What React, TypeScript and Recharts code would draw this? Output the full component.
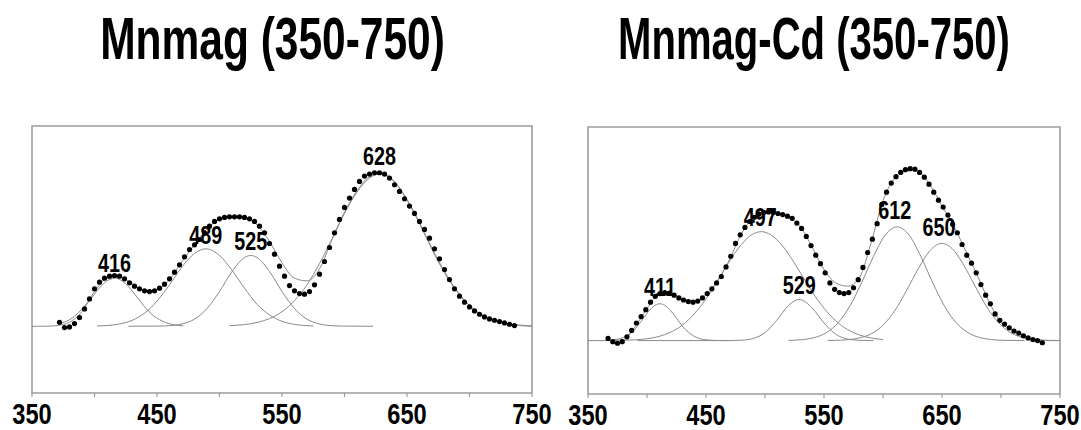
import { ComposedChart, Line, Scatter, XAxis, YAxis, ReferenceArea } from "recharts";

const FONT = "'Liberation Sans', Arial, Helvetica, sans-serif";
const FRAME = "#9c9c9c";
const FIT = "#8a8a8a";

const WAVE_TICKS = [350, 400, 450, 500, 550, 600, 650, 700, 750];
const WAVE_LABELS = [350, 450, 550, 650, 750];
const STEP = 4;

// Mnmag: measured spectrum, one point every 4 nm starting at 372 nm
const MNMAG_FIRST = 372;
const mnmagPoints = [
  0.06, -0.02, -0.01, 0.04, 0.13, 0.26, 0.41, 0.56, 0.66, 0.72, 0.75, 0.76, 0.75, 0.71, 0.65, 0.6,
  0.56, 0.53, 0.52, 0.53, 0.57, 0.63, 0.71, 0.81, 0.92, 1.04, 1.15, 1.22, 1.3, 1.4, 1.5, 1.57,
  1.61, 1.63, 1.64, 1.64, 1.64, 1.63, 1.61, 1.57, 1.5, 1.4, 1.24, 1.08, 0.9, 0.75, 0.61, 0.53,
  0.49, 0.48, 0.52, 0.62, 0.78, 0.97, 1.18, 1.4, 1.6, 1.78, 1.92, 2.05, 2.17, 2.25, 2.28, 2.3,
  2.3, 2.28, 2.22, 2.12, 2.02, 1.91, 1.8, 1.69, 1.57, 1.45, 1.32, 1.16, 1.01, 0.85, 0.7, 0.56,
  0.45, 0.36, 0.29, 0.23, 0.18, 0.14, 0.11, 0.09, 0.07, 0.05, 0.03, 0.01,
];

// Mnmag: overall fit and band components [nm, intensity]
const mnmagFit = [
  [350, 0], [360, 0], [370, 0.01], [380, 0.06], [390, 0.22], [400, 0.52], [410, 0.72], [420, 0.74],
  [430, 0.64], [440, 0.53], [450, 0.55], [460, 0.7], [470, 0.97], [480, 1.22], [490, 1.46],
  [500, 1.6], [510, 1.64], [520, 1.62], [530, 1.52], [540, 1.27], [550, 0.95], [560, 0.72],
  [570, 0.68], [580, 0.86], [590, 1.3], [600, 1.71], [610, 2.03], [620, 2.24], [630, 2.29],
  [640, 2.17], [650, 1.9], [660, 1.55], [670, 1.17], [680, 0.82], [690, 0.53], [700, 0.31],
  [710, 0.17], [720, 0.09], [730, 0.04], [740, 0.01], [750, 0],
];
const mnmag416 = [
  [372, 0.035], [377, 0.07], [382, 0.12], [387, 0.2], [392, 0.3], [397, 0.41], [402, 0.53],
  [407, 0.635], [412, 0.7], [417, 0.72], [422, 0.68], [427, 0.6], [432, 0.485], [437, 0.365],
  [442, 0.25], [447, 0.16], [452, 0.1], [457, 0.055], [462, 0.027], [467, 0.012], [471, 0.006],
];
const mnmag489 = [
  [402, 0.004], [410, 0.011], [420, 0.034], [430, 0.088], [440, 0.196], [450, 0.377], [460, 0.62],
  [470, 0.89], [480, 1.09], [489, 1.16], [500, 1.06], [510, 0.84], [520, 0.57], [530, 0.33],
  [540, 0.17], [550, 0.074], [560, 0.028], [570, 0.009], [575, 0.004],
];
const mnmag525 = [
  [427, 0], [450, 0.002], [460, 0.009], [470, 0.034], [480, 0.106], [490, 0.265], [500, 0.52],
  [510, 0.82], [520, 1.03], [525, 1.06], [530, 1.03], [540, 0.82], [550, 0.52], [560, 0.265],
  [570, 0.106], [580, 0.034], [590, 0.009], [600, 0.002], [623, 0],
];
const mnmag628 = [
  [508, 0.009], [520, 0.025], [530, 0.056], [540, 0.115], [550, 0.218], [560, 0.383], [570, 0.62],
  [580, 0.94], [590, 1.31], [600, 1.69], [610, 2.01], [620, 2.22], [628, 2.28], [640, 2.16],
  [650, 1.89], [660, 1.54], [670, 1.15], [680, 0.8], [690, 0.52], [700, 0.31], [710, 0.17],
  [720, 0.087], [730, 0.041], [740, 0.018], [750, 0.007],
];
const mnmagPeaks = [
  { x: 416, y: 0.95, name: "416" },
  { x: 489, y: 1.37, name: "489" },
  { x: 525, y: 1.28, name: "525" },
  { x: 628, y: 2.55, name: "628" },
];

// Mnmag-Cd: measured spectrum, one point every 4 nm starting at 367 nm
const CD_FIRST = 367;
const cdPoints = [
  0.04, -0.02, -0.05, -0.02, 0.07, 0.19, 0.33, 0.45, 0.58, 0.72, 0.83, 0.88, 0.9, 0.89, 0.85, 0.8,
  0.76, 0.73, 0.72, 0.74, 0.8, 0.88, 0.97, 1.08, 1.2, 1.38, 1.58, 1.82, 1.98, 2.12, 2.23, 2.31,
  2.37, 2.4, 2.41, 2.4, 2.38, 2.36, 2.33, 2.29, 2.2, 2.1, 1.95, 1.78, 1.6, 1.44, 1.27, 1.08,
  0.96, 0.9, 0.88, 0.9, 0.99, 1.14, 1.37, 1.65, 1.9, 2.19, 2.55, 2.78, 2.95, 3.07, 3.15, 3.2,
  3.22, 3.21, 3.15, 3.06, 2.93, 2.78, 2.63, 2.5, 2.35, 2.18, 2.02, 1.8, 1.6, 1.45, 1.27, 1.05,
  0.85, 0.69, 0.5, 0.38, 0.31, 0.24, 0.18, 0.14, 0.09, 0.05, 0.02, 0, -0.04,
];

const cdFit = [
  [350, 0], [360, 0], [370, 0], [380, 0.02], [390, 0.26], [400, 0.6], [410, 0.86], [420, 0.88],
  [430, 0.78], [440, 0.73], [450, 0.86], [460, 1.12], [470, 1.52], [480, 2.0], [490, 2.3],
  [500, 2.4], [510, 2.39], [520, 2.32], [530, 2.13], [540, 1.75], [550, 1.33], [560, 1.08],
  [570, 1.02], [580, 1.18], [590, 1.84], [600, 2.62], [610, 3.05], [620, 3.21], [630, 3.17],
  [640, 2.91], [650, 2.52], [660, 2.15], [670, 1.68], [680, 1.22], [690, 0.72], [700, 0.34],
  [710, 0.19], [720, 0.08], [730, 0.02], [740, 0], [750, 0],
];
const cd411 = [
  [372, 0.02], [375, 0.025], [380, 0.06], [385, 0.12], [390, 0.22], [395, 0.36], [400, 0.51],
  [405, 0.63], [411, 0.69], [415, 0.66], [420, 0.56], [425, 0.42], [430, 0.27], [435, 0.16],
  [440, 0.08], [445, 0.036], [450, 0.014], [460, 0.002], [470, 0],
];
const cd497 = [
  [380, 0.005], [390, 0.014], [400, 0.035], [410, 0.077], [420, 0.157], [430, 0.29], [440, 0.5],
  [450, 0.78], [460, 1.13], [470, 1.49], [480, 1.8], [490, 2.0], [497, 2.04], [505, 1.98],
  [515, 1.77], [525, 1.45], [535, 1.09], [545, 0.75], [555, 0.48], [565, 0.28], [575, 0.15],
  [585, 0.072], [595, 0.032], [600, 0.02],
];
const cd529 = [
  [392, 0], [460, 0], [470, 0.001], [480, 0.007], [490, 0.04], [500, 0.15], [510, 0.38],
  [520, 0.66], [529, 0.77], [540, 0.61], [550, 0.33], [560, 0.12], [570, 0.029], [580, 0.005],
  [592, 0],
];
const cd612 = [
  [520, 0.004], [532, 0.019], [542, 0.057], [552, 0.149], [562, 0.335], [572, 0.65], [582, 1.09],
  [592, 1.58], [602, 1.98], [612, 2.13], [622, 1.98], [632, 1.58], [642, 1.09], [652, 0.65],
  [662, 0.335], [672, 0.149], [682, 0.057], [692, 0.019], [702, 0.005], [720, 0],
];
const cd650 = [
  [553, 0.003], [560, 0.005], [570, 0.016], [580, 0.049], [590, 0.127], [600, 0.29], [610, 0.56],
  [620, 0.94], [630, 1.35], [640, 1.69], [650, 1.82], [660, 1.69], [670, 1.35], [680, 0.94],
  [690, 0.56], [700, 0.29], [710, 0.127], [720, 0.049], [730, 0.016], [740, 0.005], [750, 0.001],
];
const cdPeaks = [
  { x: 411, y: 1.0, name: "411" },
  { x: 496, y: 2.32, name: "497" },
  { x: 529, y: 1.05, name: "529" },
  { x: 610, y: 2.45, name: "612" },
  { x: 647.5, y: 2.12, name: "650" },
];

const toPoints = (first: number, values: number[]) =>
  values.map((y, i) => ({ x: first + i * STEP, y }));
const toXY = (pairs: number[][]) => pairs.map(([x, y]) => ({ x, y }));

// bold text squeezed horizontally to get the narrow face
const NarrowText = ({ x, y, size, squeeze, children }: any) => (
  <text
    transform={`translate(${x},${y}) scale(${squeeze},1)`}
    textAnchor="middle"
    fontSize={size}
    fontWeight="bold"
    fontFamily={FONT}
    fill="#000"
  >
    {children}
  </text>
);

const WaveTick = ({ x, y, payload }: any) => {
  if (!WAVE_LABELS.includes(payload.value)) return <g />;
  return (
    <NarrowText x={x} y={y + 24.5} size={29.5} squeeze={0.8}>
      {payload.value}
    </NarrowText>
  );
};

const Dot = ({ cx, cy }: any) => <circle cx={cx} cy={cy} r={2.6} fill="#000" />;

const PeakLabel = ({ cx, cy, payload }: any) => (
  <NarrowText x={cx} y={cy + 9} size={25} squeeze={0.79}>
    {payload.name}
  </NarrowText>
);

type PanelProps = {
  width: number;
  margin: { top: number; right: number; bottom: number; left: number };
  axisHeight: number;
  yMax: number;
  yTicks: number[];
  yOrientation: "left" | "right";
  points: { x: number; y: number }[];
  fit: number[][];
  bands: number[][][];
  peaks: { x: number; y: number; name: string }[];
};

const Panel = ({ width, margin, axisHeight, yMax, yTicks, yOrientation, points, fit, bands, peaks }: PanelProps) => (
  <ComposedChart width={width} height={430} margin={margin}>
    <XAxis
      type="number"
      dataKey="x"
      domain={[350, 750]}
      ticks={WAVE_TICKS}
      allowDataOverflow
      height={axisHeight}
      axisLine={false}
      tickLine={{ stroke: FRAME, strokeWidth: 1.2 }}
      tickSize={4}
      tickMargin={2}
      interval={0}
      tick={<WaveTick />}
    />
    <YAxis
      type="number"
      dataKey="y"
      domain={[-1, yMax]}
      ticks={yTicks}
      allowDataOverflow
      orientation={yOrientation}
      width={0}
      axisLine={false}
      tick={false}
      tickLine={{ stroke: FRAME, strokeWidth: 1.2 }}
      tickSize={4}
    />
    <ReferenceArea x1={350} x2={750} y1={-1} y2={yMax} fill="none" stroke={FRAME} strokeWidth={1.6} />
    {bands.map((band, i) => (
      <Line
        key={`band-${i}`}
        data={toXY(band)}
        dataKey="y"
        type="monotone"
        stroke={FIT}
        strokeWidth={1}
        dot={false}
        isAnimationActive={false}
      />
    ))}
    <Line
      data={toXY(fit)}
      dataKey="y"
      type="monotone"
      stroke={FIT}
      strokeWidth={1}
      dot={false}
      isAnimationActive={false}
    />
    <Scatter data={points} dataKey="y" shape={<Dot />} isAnimationActive={false} />
    <Scatter data={peaks} dataKey="y" shape={<PeakLabel />} isAnimationActive={false} />
  </ComposedChart>
);

export default function App() {
  return (
    <div style={{ position: "absolute", left: 0, top: 0, width: 1081, height: 430, background: "#fff" }}>
      <svg width={1081} height={100} style={{ position: "absolute", left: 0, top: 0 }}>
        <NarrowText x={272.5} y={59} size={60} squeeze={0.708}>
          Mnmag (350-750)
        </NarrowText>
        <NarrowText x={814} y={59} size={60} squeeze={0.668}>
          Mnmag-Cd (350-750)
        </NarrowText>
      </svg>
      <div style={{ position: "absolute", left: 0, top: 0 }}>
        <Panel
          width={560}
          margin={{ top: 126, right: 28, bottom: 0, left: 32 }}
          axisHeight={37}
          yMax={3}
          yTicks={[-1, 0, 1, 2, 3]}
          yOrientation="left"
          points={toPoints(MNMAG_FIRST, mnmagPoints)}
          fit={mnmagFit}
          bands={[mnmag416, mnmag489, mnmag525, mnmag628]}
          peaks={mnmagPeaks}
        />
      </div>
      <div style={{ position: "absolute", left: 560, top: 0 }}>
        <Panel
          width={521}
          margin={{ top: 127, right: 21, bottom: 0, left: 28 }}
          axisHeight={36}
          yMax={4}
          yTicks={[-1, 0, 1, 2, 3, 4]}
          yOrientation="right"
          points={toPoints(CD_FIRST, cdPoints)}
          fit={cdFit}
          bands={[cd411, cd497, cd529, cd612, cd650]}
          peaks={cdPeaks}
        />
      </div>
    </div>
  );
}
